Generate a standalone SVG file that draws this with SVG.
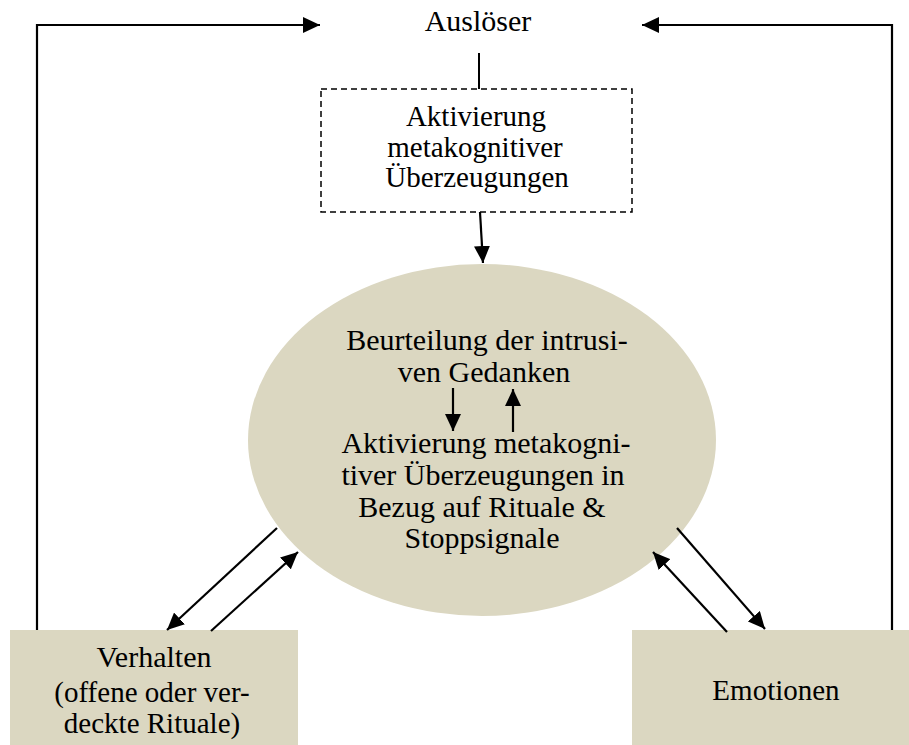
<svg xmlns="http://www.w3.org/2000/svg" width="909" height="745" viewBox="0 0 909 745">
<defs>
<marker id="ah" viewBox="0 0 17 16" refX="17" refY="8" markerWidth="17" markerHeight="16" markerUnits="userSpaceOnUse" orient="auto">
<path d="M0,0 L17,8 L0,16 Z" fill="#000"/>
</marker>
<style>
.t{font-family:"Liberation Serif","Times New Roman",serif;font-size:29px;fill:#000;text-anchor:middle}
.b{font-size:30px}
.fill{fill:#DBD7C1}
.ln{stroke:#000;stroke-width:2;fill:none}
.arr{stroke:#000;stroke-width:2.2;fill:none;marker-end:url(#ah)}
</style>
</defs>
<rect width="909" height="745" fill="#fff"/>
<g id="connectors">
<polyline class="arr" points="37,630 37,25 320,25"/>
<polyline class="arr" points="892,630 892,25 642,25"/>
<line class="ln" x1="479" y1="53" x2="479" y2="89"/>
<line class="arr" x1="480" y1="212" x2="483" y2="263"/>
</g>
<g id="ausloeser">
<text class="t b" x="478" y="31">Auslöser</text>
</g>
<g id="aktivierung">
<rect x="321" y="89" width="311" height="123" fill="#fff" stroke="#000" stroke-width="1.5" stroke-dasharray="6,4"/>
<text class="t" x="476" y="126">Aktivierung</text>
<text class="t" x="475" y="157">metakognitiver</text>
<text class="t" x="477" y="187">Überzeugungen</text>
</g>
<g id="beurteilung">
<ellipse class="fill" cx="482" cy="440" rx="234" ry="176"/>
<text class="t b" x="487" y="350">Beurteilung der intrusi-</text>
<text class="t b" x="484" y="382">ven Gedanken</text>
<line class="arr" x1="453" y1="388" x2="453" y2="431"/>
<line class="arr" x1="513" y1="432" x2="513" y2="389"/>
<text class="t b" x="486" y="453">Aktivierung metakogni-</text>
<text class="t b" x="483" y="485">tiver Überzeugungen in</text>
<text class="t b" x="482" y="517">Bezug auf Rituale &amp;</text>
<text class="t b" x="482" y="548">Stoppsignale</text>
</g>
<g id="verhalten">
<rect class="fill" x="10" y="630" width="288" height="115"/>
<text class="t b" x="154" y="667">Verhalten</text>
<text class="t" x="152" y="702">(offene oder ver-</text>
<text class="t" x="152" y="733">deckte Rituale)</text>
</g>
<g id="emotionen">
<rect class="fill" x="632" y="630" width="277" height="115"/>
<text class="t" x="776" y="700">Emotionen</text>
</g>
<g id="side-connectors">
<line class="arr" x1="277" y1="528" x2="167" y2="630"/>
<line class="arr" x1="211" y1="631" x2="298" y2="552"/>
<line class="arr" x1="727" y1="632" x2="653" y2="552"/>
<line class="arr" x1="677" y1="528" x2="765" y2="629"/>
</g>
</svg>
